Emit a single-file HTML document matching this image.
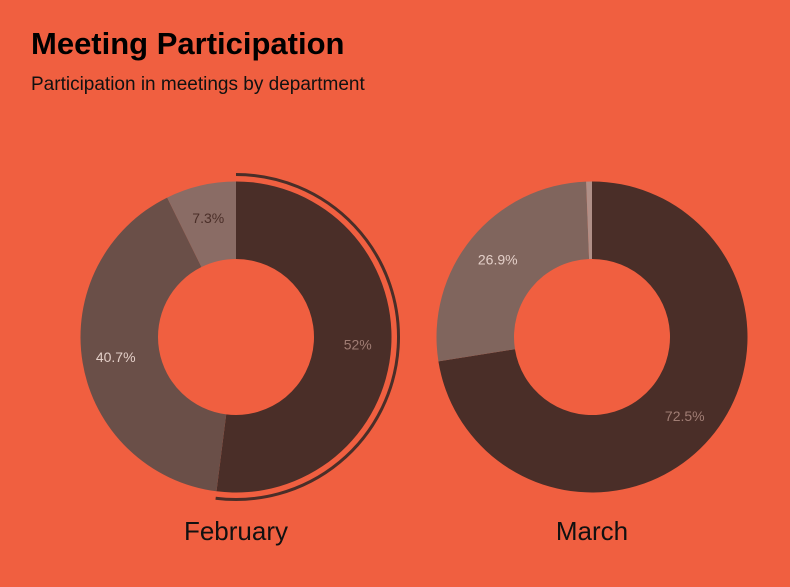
<!DOCTYPE html>
<html><head><meta charset="utf-8"><style>
html,body{margin:0;padding:0;background:#F05F40;width:790px;height:587px;overflow:hidden;font-family:"Liberation Sans",sans-serif}
#t{position:absolute;left:31px;top:26px;font-size:31px;font-weight:bold;color:#000;margin:0}
#s{position:absolute;left:31px;top:74px;font-size:19px;color:#111;margin:0}
svg{position:absolute;left:0;top:0}
</style></head><body>
<h1 id="t">Meeting Participation</h1>
<p id="s">Participation in meetings by department</p>
<svg id="c" width="790" height="587"></svg>
<script>
const months=["February","March"];
const febValues=[52,40.7,7.3];
const marValues=[72.5,26.9,0.6];
const febColors=["#4A2E28","#6A4F48","#8A6C65"];
const marColors=["#4A2E28","#80655D","#B08F87"];
const labelColors=["#A07D74","#E3CFC8","#4A2E28"];
const svg=document.getElementById('c');const NS="http://www.w3.org/2000/svg";
const R=155.5,r=78,CY=337;
function pt(cx,cy,rad,f){const a=f*2*Math.PI;return [cx+rad*Math.sin(a),cy-rad*Math.cos(a)];}
function arc(cx,cy,f0,f1){const [a,b]=pt(cx,cy,R,f0),[c,d]=pt(cx,cy,R,f1),[e,g]=pt(cx,cy,r,f1),[h,i]=pt(cx,cy,r,f0);const l=(f1-f0)>0.5?1:0;
return `M${a},${b}A${R},${R} 0 ${l} 1 ${c},${d}L${e},${g}A${r},${r} 0 ${l} 0 ${h},${i}Z`;}
function donut(cx,vals,cols,name,label,highlight){
 const tot=vals.reduce((a,b)=>a+b,0);let acc=0;
 vals.forEach((v,k)=>{const f0=acc/tot,f1=(acc+v)/tot;acc+=v;
  const p=document.createElementNS(NS,'path');p.setAttribute('d',arc(cx,CY,f0,f1));p.setAttribute('fill',cols[k]);
  
  
  svg.appendChild(p);
  if(highlight&&k===0){const rr=162.5;const [a,b]=pt(cx,CY,rr,f0),[c,d]=pt(cx,CY,rr,f1);
   const h=document.createElementNS(NS,'path');h.setAttribute('d',`M${a},${b}A${rr},${rr} 0 ${(f1-f0)>0.5?1:0} 1 ${c},${d}`);
   h.setAttribute('fill','none');h.setAttribute('stroke','#4A2E28');h.setAttribute('stroke-width','3');
   
   
   svg.appendChild(h);}
  if(v>=3){const [x,y]=pt(cx,CY,122,(f0+f1)/2);const t=document.createElementNS(NS,'text');
   t.setAttribute('x',x);t.setAttribute('y',y+5);t.setAttribute('text-anchor','middle');t.setAttribute('font-size','14');
   t.setAttribute('fill',labelColors[k]);t.textContent=(Math.round(v*10)/10)+'%';
   
   
   svg.appendChild(t);}
 });
 const t=document.createElementNS(NS,'text');t.setAttribute('x',cx);t.setAttribute('y',540);t.setAttribute('text-anchor','middle');
 t.setAttribute('font-size','26');t.setAttribute('fill','#111');t.textContent=label;
 
 
 svg.appendChild(t);
}
donut(236,febValues,febColors,'february',months[0],true);
donut(592,marValues,marColors,'march',months[1],false);
</script>
</body></html>
